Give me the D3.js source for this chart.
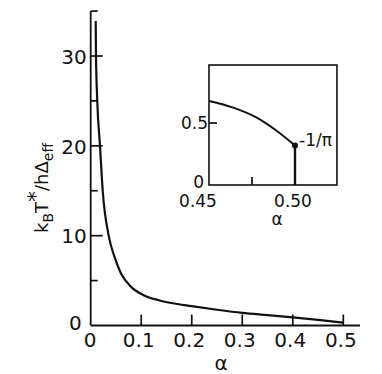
<!DOCTYPE html>
<html>
<head>
<meta charset="utf-8">
<script src="https://cdn.jsdelivr.net/npm/d3@7"></script>
<style>
  html, body { margin: 0; padding: 0; background: #fff; }
  svg { display: block; }
  text { font-family: "DejaVu Sans", sans-serif; fill: #111; }
</style>
</head>
<body>
<svg id="chart" width="382" height="374"></svg>
<script>
// ---- data ----
const alpha = [0.0099, 0.0105, 0.013, 0.0184, 0.0238, 0.0356, 0.047, 0.06, 0.08, 0.106, 0.133, 0.16, 0.2, 0.25, 0.3, 0.35, 0.4, 0.45, 0.5];
const kT    = [33.9, 30, 25, 20, 15, 10, 7.66, 5.8, 4.3, 3.35, 2.84, 2.5, 2.15, 1.75, 1.4, 1.15, 0.9, 0.62, 0.32];

const insetAlpha = [0.45, 0.4641, 0.4775, 0.4891, 0.5];
const insetKT    = [0.678, 0.624, 0.545, 0.439, 0.318];
const endPoint   = [0.5, 1 / Math.PI];

const xTickValues = [0, 0.1, 0.2, 0.3, 0.4, 0.5];
const xTickLabels = ["0", "0.1", "0.2", "0.3", "0.4", "0.5"];
const yMajorTicks = [0, 10, 20, 30];
const yMinorTicks = [5, 15, 25, 35];
const insetXTicks = [0.475];
const insetXLabels = [[0.45, "0.45"], [0.50, "0.50"]];
const insetYTicks = [0.5];
const insetYLabels = [[0, "0"], [0.5, "0.5"]];

const svg = d3.select("#chart");
const ink = "#111";

// ---- main plot ----
const x = d3.scaleLinear().domain([0, 0.5]).range([90.7, 343.3]);
const y = d3.scaleLinear().domain([0, 30]).range([325.5, 56]);

svg.append("line").attr("x1", x(0)).attr("x2", x(0)).attr("y1", y(0)).attr("y2", y(35))
  .attr("stroke", ink).attr("stroke-width", 1.8);
svg.append("line").attr("x1", x(0)).attr("x2", x(0.533)).attr("y1", y(0)).attr("y2", y(0))
  .attr("stroke", ink).attr("stroke-width", 1.8);

const gy = svg.append("g").attr("transform", `translate(${x(0)},0)`)
  .call(d3.axisLeft(y).tickValues(yMajorTicks).tickSize(0).tickPadding(4).tickFormat(d3.format("d")));
gy.select(".domain").remove();
gy.selectAll(".tick text").attr("font-size", 20).attr("fill", ink)
  .attr("font-family", "DejaVu Sans")
  .attr("x", d => d === 0 ? -9 : -4).attr("dy", d => d === 0 ? "0.22em" : "0.36em");

function hTicks(values, scale, x0, len) {
  svg.append("g").selectAll("line").data(values).enter().append("line")
    .attr("x1", x0).attr("x2", x0 + len)
    .attr("y1", d => scale(d)).attr("y2", d => scale(d))
    .attr("stroke", ink).attr("stroke-width", 1.7);
}
function vTicks(values, scale, y0, len) {
  svg.append("g").selectAll("line").data(values).enter().append("line")
    .attr("y1", y0).attr("y2", y0 - len)
    .attr("x1", d => scale(d)).attr("x2", d => scale(d))
    .attr("stroke", ink).attr("stroke-width", 1.7);
}
hTicks(yMajorTicks.filter(d => d !== 0), y, x(0), 12);
hTicks(yMinorTicks, y, x(0), 7);

const gx = svg.append("g").attr("transform", `translate(0,${y(0)})`)
  .call(d3.axisBottom(x).tickValues(xTickValues).tickSize(0)
    .tickFormat((d, i) => xTickLabels[i]));
gx.select(".domain").remove();
gx.selectAll(".tick text").attr("font-size", 20).attr("fill", ink)
  .attr("font-family", "DejaVu Sans")
  .attr("y", 7).attr("dy", "0.71em").attr("dx", d => d === 0 ? -1 : -3);
vTicks(xTickValues.filter(d => d !== 0), x, y(0), 11);

svg.append("text").attr("x", 221).attr("y", 370).attr("text-anchor", "middle")
  .attr("font-size", 20).text("α");

const yl = svg.append("text").attr("transform", "translate(47.5,188) rotate(-90)")
  .attr("text-anchor", "middle").attr("font-size", 18);
yl.append("tspan").text("k");
yl.append("tspan").attr("font-size", 14).attr("dy", 5).text("B");
yl.append("tspan").attr("dy", -5).text("T");
yl.append("tspan").attr("font-size", 22).attr("dy", -5).text("*");
yl.append("tspan").attr("dy", 5).text("/hΔ");
yl.append("tspan").attr("font-size", 14).attr("dy", 5).text("eff");

const line = d3.line().x((d, i) => x(alpha[i])).y(d => y(d)).curve(d3.curveMonotoneX);
svg.append("path").datum(kT).attr("d", line).attr("fill", "none")
  .attr("stroke", ink).attr("stroke-width", 2.2).attr("stroke-linejoin", "round");

// ---- inset ----
const xi = d3.scaleLinear().domain([0.45, 0.5]).range([209, 295]);
const yi = d3.scaleLinear().domain([0, 0.5]).range([185, 123]);
const xiMax = 0.5244, yiMax = 0.9677;

svg.append("rect").attr("x", xi(0.45)).attr("y", yi(yiMax))
  .attr("width", xi(xiMax) - xi(0.45)).attr("height", yi(0) - yi(yiMax))
  .attr("fill", "none").attr("stroke", ink).attr("stroke-width", 1.6);

hTicks(insetYTicks, yi, xi(0.45), 8);
vTicks(insetXTicks, xi, yi(0), 8);

svg.selectAll("text.iyl").data(insetYLabels).enter().append("text").attr("class", "iyl")
  .attr("x", d => d[0] === 0 ? 204 : 208).attr("y", d => yi(d[0]) + (d[0] === 0 ? 3 : 6))
  .attr("text-anchor", "end").attr("font-size", 17).text(d => d[1]);

svg.selectAll("text.ixl").data(insetXLabels).enter().append("text").attr("class", "ixl")
  .attr("x", d => xi(d[0]) - (d[0] === 0.45 ? 11 : 2)).attr("y", 207)
  .attr("text-anchor", "middle").attr("font-size", 17).text(d => d[1]);

svg.append("text").attr("x", 277).attr("y", 225).attr("text-anchor", "middle")
  .attr("font-size", 17).text("α");

const iline = d3.line().x((d, i) => xi(insetAlpha[i])).y(d => yi(d)).curve(d3.curveMonotoneX);
svg.append("path").datum(insetKT).attr("d", iline).attr("fill", "none")
  .attr("stroke", ink).attr("stroke-width", 2);

svg.append("line").attr("x1", xi(endPoint[0])).attr("x2", xi(endPoint[0]))
  .attr("y1", yi(endPoint[1])).attr("y2", yi(0)).attr("stroke", ink).attr("stroke-width", 2.4);
svg.append("circle").attr("cx", xi(endPoint[0])).attr("cy", yi(endPoint[1])).attr("r", 3)
  .attr("fill", ink);

svg.append("text").attr("x", 299).attr("y", 146).attr("font-size", 17).text("-1/π");
</script>
</body>
</html>
